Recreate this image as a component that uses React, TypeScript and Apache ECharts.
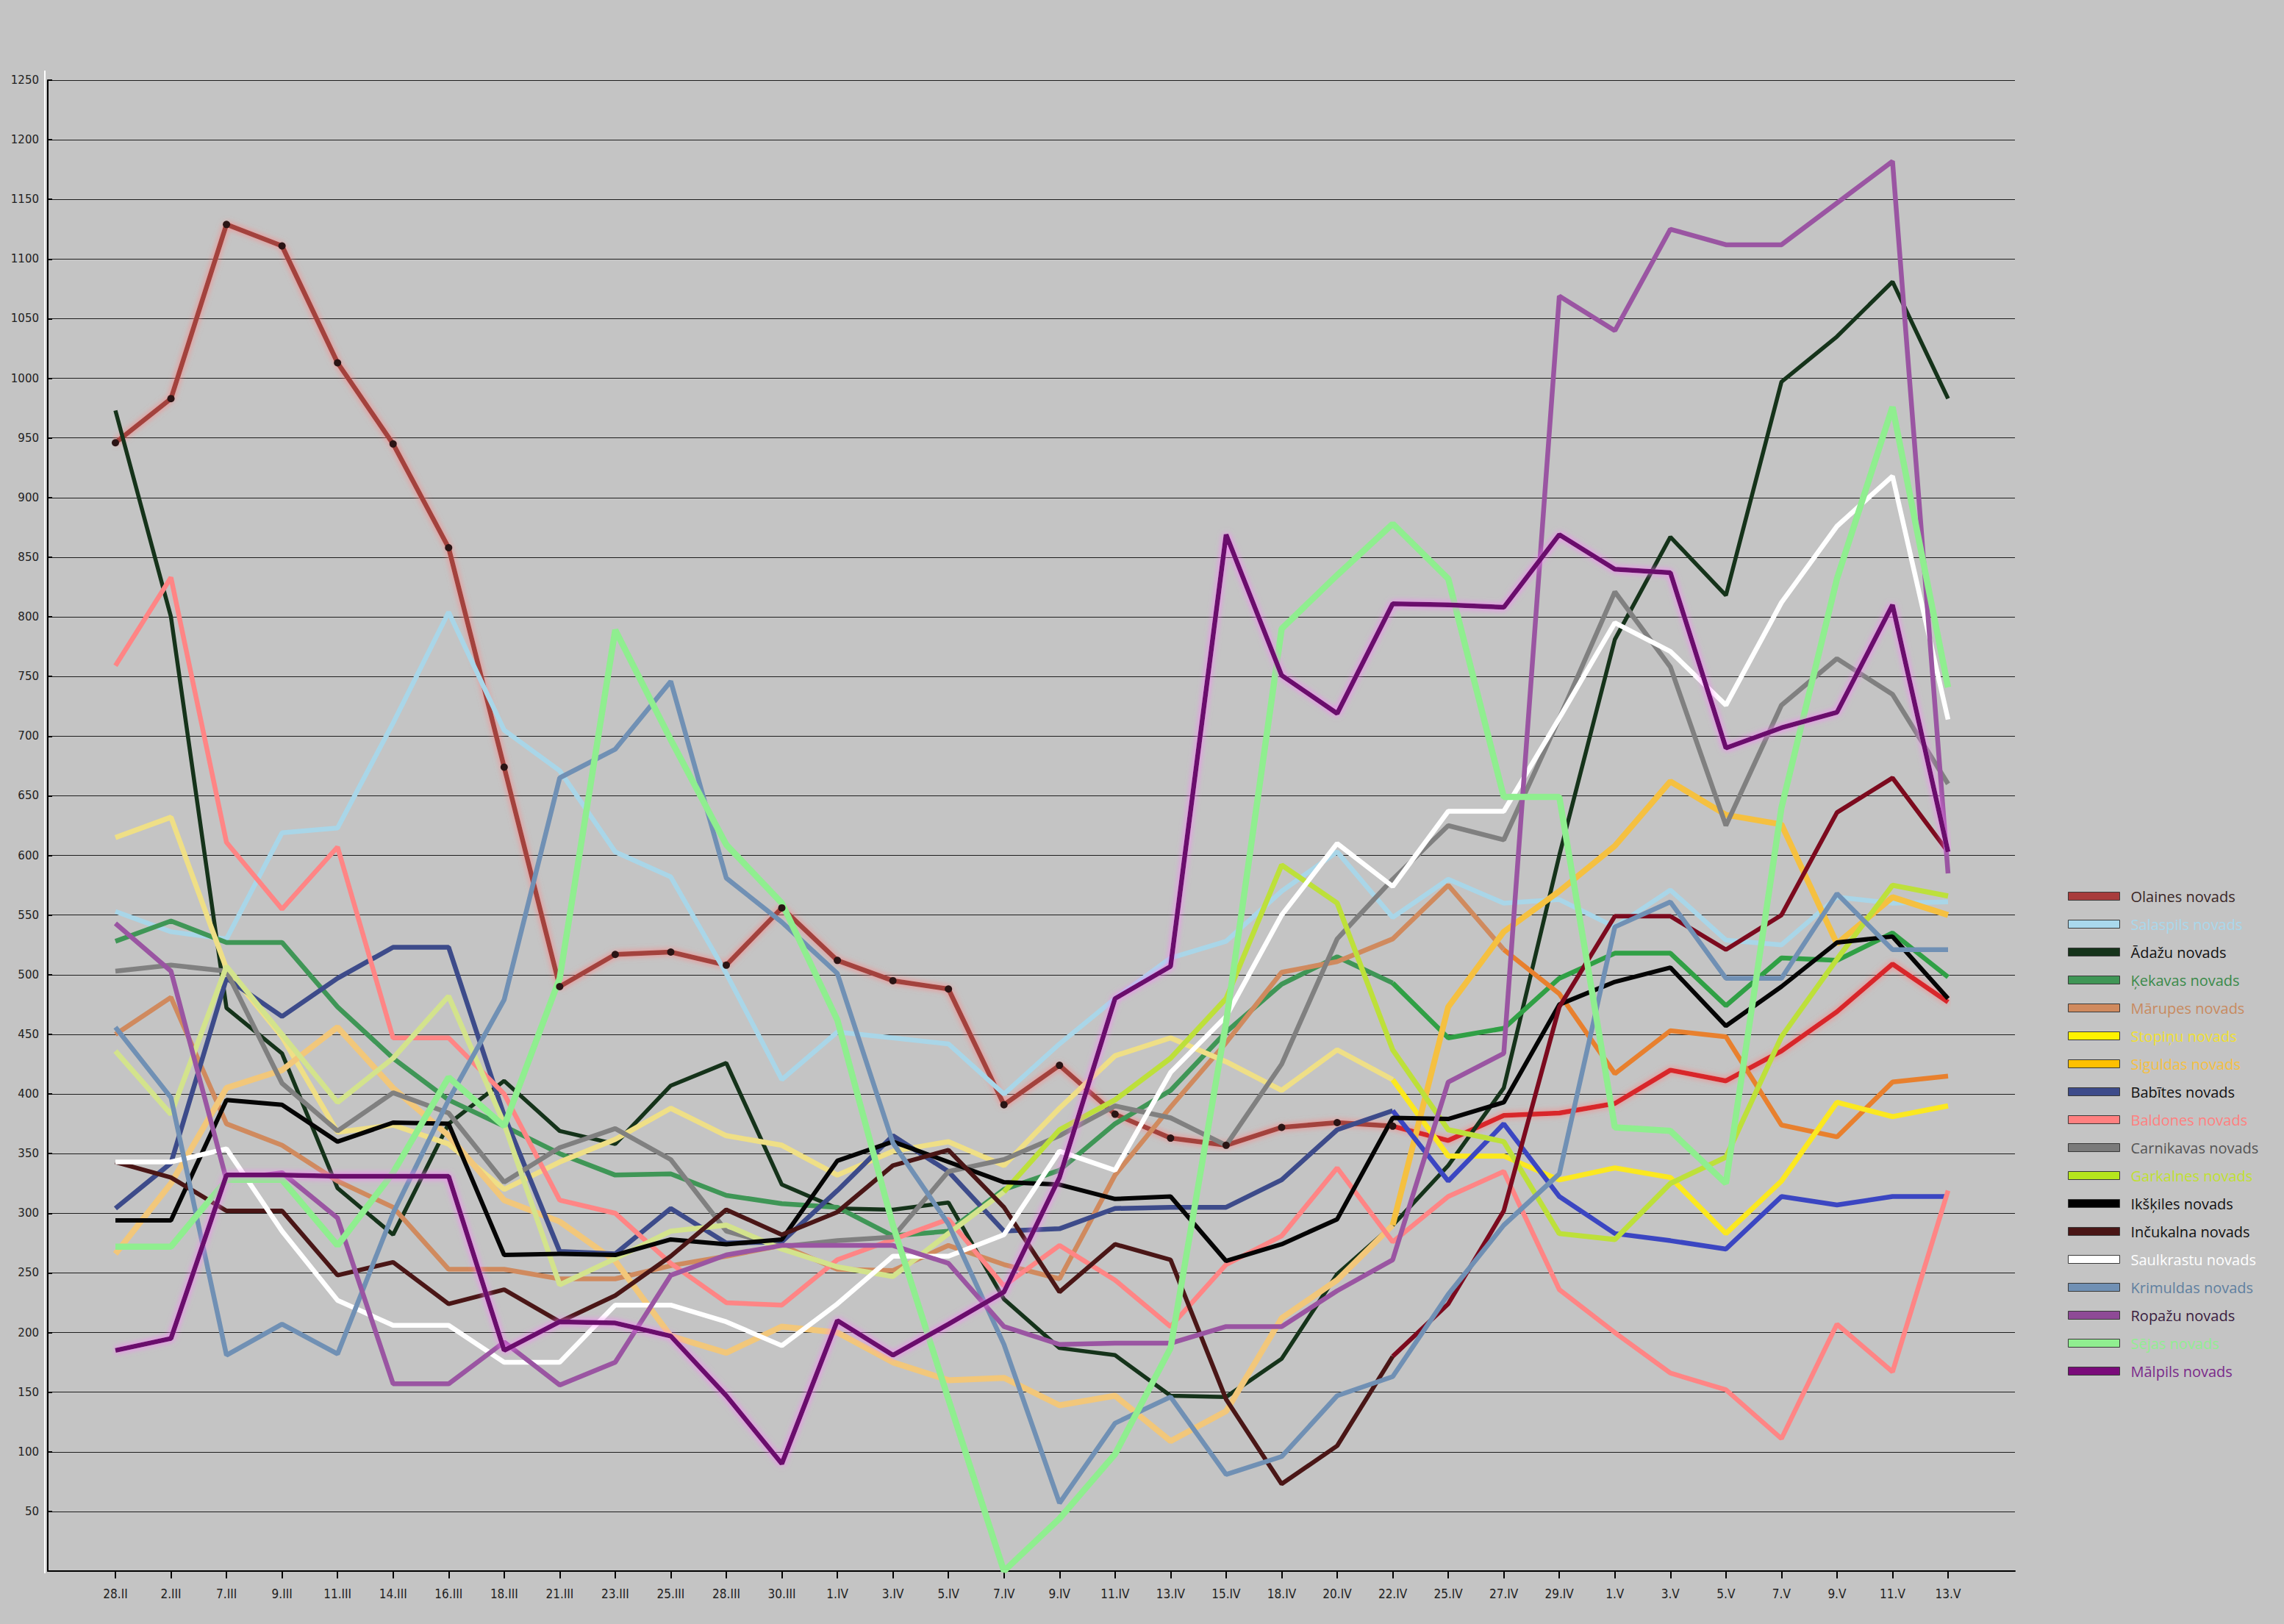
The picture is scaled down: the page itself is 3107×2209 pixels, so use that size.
import React, { useEffect, useRef } from "react";
import * as echarts from "echarts";

const categories = ["28.II","2.III","7.III","9.III","11.III","14.III","16.III","18.III","21.III","23.III","25.III","28.III","30.III","1.IV","3.IV","5.IV","7.IV","9.IV","11.IV","13.IV","15.IV","18.IV","20.IV","22.IV","25.IV","27.IV","29.IV","1.V","3.V","5.V","7.V","9.V","11.V","13.V"];

const yTicks = [0,50,100,150,200,250,300,350,400,450,500,550,600,650,700,750,800,850,900,950,1000,1050,1100,1150,1200,1250];

const olaines = [946,983,1129,1111,1013,945,858,674,490,517,519,508,556,512,495,488,391,424,383,363,357,372,376,373,361,382,384,392,420,411,436,469,509,477];
const salaspils = [553,536,530,619,623,711,804,705,671,603,582,501,412,452,447,442,400,442,480,514,528,570,603,548,580,560,563,540,571,529,525,565,560,561];
const adazu = [973,800,472,434,321,282,375,411,369,358,407,426,324,304,303,309,228,187,181,147,146,178,249,290,340,405,600,781,867,818,997,1035,1081,983];
const kekavas = [528,545,527,527,473,430,395,373,350,332,333,315,308,305,281,285,320,336,375,403,452,492,515,493,447,455,497,518,518,474,514,512,535,498];
const marupes = [450,481,375,357,327,305,253,253,245,245,256,264,273,253,252,273,257,245,332,389,443,502,511,530,575,521,484,417,453,448,374,364,410,415];
const stopinu = [615,632,505,448,368,374,358,320,343,362,388,365,357,332,352,360,340,388,432,447,427,403,437,412,348,348,328,338,330,283,327,393,381,390];
const siguldas = [266,325,405,420,456,405,365,311,293,260,197,183,205,200,175,160,162,139,147,109,134,212,244,290,473,536,570,608,662,634,626,526,565,550];
const babites = [304,342,497,465,497,523,523,382,268,266,304,275,276,319,365,335,285,287,304,305,305,328,370,386,327,375,314,283,277,270,314,307,314,314];
const baldones = [759,833,611,555,607,447,447,400,311,300,258,225,223,261,278,295,239,273,244,205,257,281,338,276,314,335,236,200,166,152,111,207,167,319];
const carnikavas = [503,508,503,409,369,401,384,326,355,371,345,285,272,277,280,335,345,365,390,380,357,425,530,580,625,613,715,821,758,625,726,765,735,660];
const garkalnes = [436,383,507,450,393,430,482,375,240,262,285,290,270,255,247,283,318,370,395,430,480,592,560,437,370,360,283,278,325,347,448,513,575,566];
const ikskiles = [294,294,395,391,360,376,375,265,266,265,278,274,278,344,360,343,326,324,312,314,260,274,295,380,379,393,475,494,506,457,490,527,532,480];
const incukalna = [343,330,302,302,248,259,224,236,209,231,264,303,282,301,340,353,305,234,274,261,144,73,105,180,224,302,473,549,549,521,550,636,665,603];
const saulkrastu = [343,343,354,285,227,206,206,175,175,223,223,209,189,224,264,264,282,352,336,418,465,550,610,574,637,637,715,795,771,726,812,876,918,714];
const krimuldas = [456,397,181,207,182,300,395,479,665,689,746,581,544,501,359,291,190,57,124,146,81,96,147,163,232,290,333,540,561,497,497,568,521,521];
const ropazu = [543,503,328,334,296,157,157,192,156,175,248,265,273,273,273,258,205,190,191,191,205,205,235,261,410,434,1069,1040,1125,1112,1112,1147,1182,585];
const sejas = [272,272,328,328,273,334,414,373,497,789,697,609,560,462,290,144,0,44,98,187,460,790,835,878,832,649,649,372,369,325,640,832,976,741];
const malpils = [185,195,332,332,331,331,331,185,209,208,197,147,90,210,181,207,234,330,480,507,869,751,719,811,810,808,869,840,837,690,707,720,810,603];

type Def = { name: string; data: number[]; color: string; late?: string; split?: number; width: number; legendColor: string; textColor: string; glow?: string; dots?: boolean };

const defs: Def[] = [
  { name: "Olaines novads", data: olaines, color: "#a3433d", late: "#d8262c", split: 23, width: 6.5, legendColor: "#a83c3c", textColor: "#3a2626", glow: "rgba(255,130,130,0.9)", dots: true },
  { name: "Salaspils novads", data: salaspils, color: "#a9d6e8", width: 6.5, legendColor: "#a9d8ec", textColor: "#a9d8ec" },
  { name: "Ādažu novads", data: adazu, color: "#15331a", width: 5.5, legendColor: "#15331a", textColor: "#111111" },
  { name: "Ķekavas novads", data: kekavas, color: "#3f9656", late: "#30a045", split: 23, width: 6.5, legendColor: "#3f9656", textColor: "#3a8a4a" },
  { name: "Mārupes novads", data: marupes, color: "#d08a5e", late: "#e8802e", split: 25, width: 6.5, legendColor: "#d08a5e", textColor: "#c88a60" },
  { name: "Stopiņu novads", data: stopinu, color: "#efdf86", late: "#fbe820", split: 23, width: 7, legendColor: "#fff200", textColor: "#f0e030" },
  { name: "Siguldas novads", data: siguldas, color: "#f2c77a", late: "#f5c040", split: 23, width: 8, legendColor: "#ffc000", textColor: "#f5c040" },
  { name: "Babītes novads", data: babites, color: "#3d4b8a", late: "#3b46c2", split: 23, width: 6.5, legendColor: "#3d4b8a", textColor: "#111111" },
  { name: "Baldones novads", data: baldones, color: "#ff8585", width: 6.5, legendColor: "#ff8080", textColor: "#ff8080" },
  { name: "Carnikavas novads", data: carnikavas, color: "#808080", width: 6.5, legendColor: "#7a7a7a", textColor: "#555555" },
  { name: "Garkalnes novads", data: garkalnes, color: "#d3e38c", late: "#bde03a", split: 16, width: 7, legendColor: "#b5e61d", textColor: "#c0e030" },
  { name: "Ikšķiles novads", data: ikskiles, color: "#050505", width: 6, legendColor: "#000000", textColor: "#111111" },
  { name: "Inčukalna novads", data: incukalna, color: "#4a1616", late: "#7c0a1e", split: 23, width: 6, legendColor: "#4a1616", textColor: "#111111" },
  { name: "Saulkrastu novads", data: saulkrastu, color: "#ffffff", width: 6.5, legendColor: "#ffffff", textColor: "#ffffff" },
  { name: "Krimuldas novads", data: krimuldas, color: "#7090b4", width: 6.5, legendColor: "#7090b4", textColor: "#6080a0" },
  { name: "Ropažu novads", data: ropazu, color: "#9a55a2", width: 6.5, legendColor: "#8e4a96", textColor: "#3a2040" },
  { name: "Sējas novads", data: sejas, color: "#8fee8f", width: 8.5, legendColor: "#90ee90", textColor: "#90ee90" },
  { name: "Mālpils novads", data: malpils, color: "#6a0c6c", width: 6.5, legendColor: "#7a0a7a", textColor: "#7a2a8a", glow: "rgba(255,120,255,0.9)" },
];

const AXIS_LEFT = 65;
const AXIS_RIGHT = 2741;
const FIRST_CAT = 157;
const LAST_CAT = 2650;
const TOP = 109;
const BOTTOM_Y = 2137;
const W = 3107;
const H = 2209;

function lineSeries(d: Def, data: (number | null)[], color: string, dots: boolean) {
  return {
    type: "line",
    name: d.name,
    xAxisIndex: 1,
    yAxisIndex: 1,
    data,
    showSymbol: dots,
    symbol: "circle",
    symbolSize: 10,
    connectNulls: false,
    itemStyle: { color: dots ? "#2a1414" : color },
    lineStyle: {
      color,
      width: d.width,
      shadowColor: d.glow || "rgba(0,0,0,0)",
      shadowBlur: d.glow ? 8 : 0,
    },
    emphasis: { disabled: true },
  };
}

export default function App() {
  const ref = useRef<HTMLDivElement>(null);
  useEffect(() => {
    if (!ref.current) return;
    const chart = echarts.init(ref.current, null, { renderer: "svg" });
    const series: any[] = [];
    defs.forEach((d) => {
      if (d.late && d.split !== undefined) {
        const k = d.split;
        series.push(lineSeries(d, d.data.map((v, i) => (i <= k ? v : null)), d.color, !!d.dots));
        series.push(lineSeries(d, d.data.map((v, i) => (i >= k ? v : null)), d.late, false));
      } else {
        series.push(lineSeries(d, d.data.slice(), d.color, !!d.dots));
      }
    });
    const yMin = yTicks[0];
    const yMax = yTicks[yTicks.length - 1];
    chart.setOption({
      animation: false,
      backgroundColor: "#c4c4c4",
      grid: [
        { left: AXIS_LEFT, right: W - AXIS_RIGHT, top: TOP, bottom: H - BOTTOM_Y, containLabel: false },
        { left: FIRST_CAT, right: W - LAST_CAT, top: TOP, bottom: H - BOTTOM_Y, containLabel: false },
      ],
      xAxis: [
        {
          type: "value",
          gridIndex: 0,
          min: 0,
          max: 1,
          axisLine: { show: true, onZero: false, lineStyle: { color: "#000", width: 2 } },
          axisTick: { show: false },
          axisLabel: { show: false },
          splitLine: { show: false },
        },
        {
          type: "category",
          gridIndex: 1,
          data: categories,
          boundaryGap: false,
          axisLine: { show: false },
          axisTick: { show: true, length: 10, interval: 0, lineStyle: { color: "#000", width: 2 } },
          axisLabel: {
            interval: 0,
            fontFamily: "Liberation Sans Narrow, DejaVu Sans Condensed, sans-serif",
            fontSize: 17,
            color: "#222",
            margin: 22,
          },
          splitLine: { show: false },
        },
      ],
      yAxis: [
        {
          type: "value",
          gridIndex: 0,
          min: yMin,
          max: yMax,
          interval: 50,
          axisLine: { show: true, lineStyle: { color: "#000", width: 2 } },
          axisTick: { show: true, inside: true, length: 6, lineStyle: { color: "#000", width: 2 } },
          axisLabel: {
            formatter: (v: number) => (v === 0 ? "" : String(v)),
            fontFamily: "DejaVu Sans, sans-serif",
            fontSize: 15,
            color: "#222",
            margin: 12,
          },
          splitLine: { show: true, lineStyle: { color: "#1e1e1e", width: 1 } },
        },
        {
          type: "value",
          gridIndex: 1,
          min: yMin,
          max: yMax,
          interval: 50,
          show: false,
          splitLine: { show: false },
        },
      ],
      legend: {
        orient: "vertical",
        left: 2808,
        top: 1203,
        itemWidth: 70,
        itemHeight: 11,
        itemGap: 16,
        icon: "rect",
        selectedMode: false,
        textStyle: { fontFamily: "Open Sans, sans-serif", fontSize: 20, lineHeight: 22, padding: [0, 0, 0, 10] },
        data: defs.map((d) => ({
          name: d.name,
          itemStyle: { color: d.legendColor, borderColor: "#3a3a3a", borderWidth: 1 },
          textStyle: { color: d.textColor },
        })),
      },
      graphic: [
        { type: "line", shape: { x1: 61, y1: 96, x2: 61, y2: 2140 }, style: { stroke: "#ffffff", lineWidth: 2 } },
      ],
      series,
    });
    return () => chart.dispose();
  }, []);
  return (
    <div
      ref={ref}
      style={{ position: "absolute", left: 0, top: 0, width: W, height: H, background: "#c4c4c4" }}
    />
  );
}
